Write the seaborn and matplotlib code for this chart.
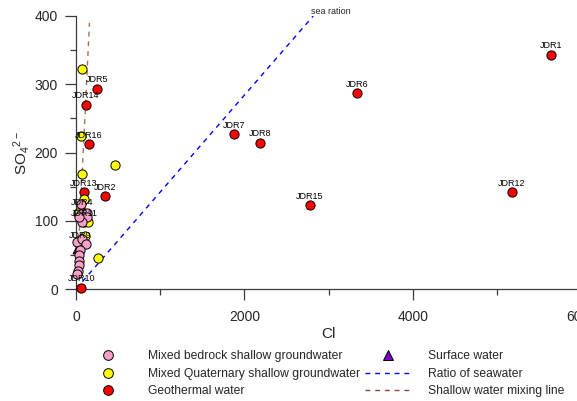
import matplotlib
matplotlib.use("Agg")
import matplotlib.pyplot as plt
import seaborn as sns
import pandas as pd
from matplotlib.lines import Line2D
from matplotlib.ticker import MultipleLocator

# ---------------- data ----------------
geo_names = ["JDR1", "JDR2", "JDR4", "JDR5", "JDR6", "JDR7", "JDR8", "JDR9",
             "JDR10", "JDR11", "JDR12", "JDR13", "JDR14", "JDR15", "JDR16"]
geo_cl = [5640, 349, 71, 253, 3335, 1875, 2184, 50, 63, 95, 5175, 92, 119, 2777, 155]
geo_so4 = [343, 136, 113, 293, 287, 227, 214, 65, 2, 98, 142, 142, 270, 123, 212]

quat_cl = [75, 56, 468, 75, 99, 27, 147, 103, 258]
quat_so4 = [323, 224, 181, 169, 132, 111, 98, 78, 46]

bed_cl = [63, 56, 135, 127, 75, 40, 15, 75, 123, 48, 30, 36, 30, 27, 8]
bed_so4 = [124, 110, 112, 105, 98, 106, 69, 73, 66, 57, 50, 41, 35, 27, 22]

surf_cl = [10]
surf_so4 = [58]

sea_cl = [0, 2815]
sea_so4 = [0, 400]

mix_cl = [7, 160]
mix_so4 = [0, 390]

x_ticks = [0, 2000, 4000, 6000]
y_ticks = [0, 100, 200, 300, 400]

# ---------------- style ----------------
sns.set_style("ticks")
plt.rcParams["font.family"] = ["Liberation Sans", "DejaVu Sans"]
plt.rcParams["mathtext.fontset"] = "custom"
plt.rcParams["mathtext.rm"] = "Liberation Sans"
plt.rcParams["mathtext.it"] = "Liberation Sans:italic"

C_PINK = "#F7A1C8"
C_YEL = "#FFFF00"
C_RED = "#FF0000"
C_PUR = "#8000C0"
C_BLUE = "#0000FF"
C_BROWN = "#A5744E"
AX_COL = "#3a3a3a"

fig = plt.figure(figsize=(5.77, 4.01), dpi=100)
ax = fig.add_axes([0.1317, 0.2793, 0.8761, 0.6808])

ax.plot(sea_cl, sea_so4, color=C_BLUE, lw=1.0, dashes=(3.5, 3.5), zorder=1)
ax.plot(mix_cl, mix_so4, color=C_BROWN, lw=1.0, dashes=(3.5, 3.5), zorder=1)

geo = pd.DataFrame({"Cl": geo_cl, "SO4": geo_so4})
quat = pd.DataFrame({"Cl": quat_cl, "SO4": quat_so4})
bed = pd.DataFrame({"Cl": bed_cl, "SO4": bed_so4})
surf = pd.DataFrame({"Cl": surf_cl, "SO4": surf_so4})

kw = dict(s=44, edgecolor="black", linewidth=0.7, ax=ax, legend=False, clip_on=False)
sns.scatterplot(data=geo, x="Cl", y="SO4", color=C_RED, zorder=3, **kw)
sns.scatterplot(data=quat, x="Cl", y="SO4", color=C_YEL, zorder=4, **kw)
sns.scatterplot(data=bed, x="Cl", y="SO4", color=C_PINK, zorder=5, **kw)
sns.scatterplot(data=surf, x="Cl", y="SO4", color=C_PUR, marker="^", zorder=2,
                s=40, edgecolor="black", linewidth=0.7, ax=ax, legend=False, clip_on=False)

for n, xv, yv in zip(geo_names, geo_cl, geo_so4):
    ax.annotate(n, (xv, yv), xytext=(0, 6.5), textcoords="offset points",
                ha="center", va="center", fontsize=6.5, color="black", zorder=6,
                annotation_clip=False)

ax.text(3027, 406, "sea ration", fontsize=6.5, ha="center", va="center")

ax.set_xlim(0, 6000)
ax.set_ylim(0, 400)
ax.set_xticks(x_ticks)
ax.set_yticks(y_ticks)
ax.xaxis.set_minor_locator(MultipleLocator(1000))
ax.yaxis.set_minor_locator(MultipleLocator(50))
ax.tick_params(axis="both", which="major", length=8, width=0.9, color=AX_COL,
               labelsize=10, direction="out")
ax.tick_params(axis="both", which="minor", length=4, width=0.9, color=AX_COL,
               direction="out")
ax.tick_params(axis="x", pad=7)
ax.tick_params(axis="y", pad=5)
for side in ["top", "right"]:
    ax.spines[side].set_visible(False)
for side in ["left", "bottom"]:
    ax.spines[side].set_color(AX_COL)
    ax.spines[side].set_linewidth(0.9)

ax.set_xlabel("Cl", fontsize=11, labelpad=2)
ax.set_ylabel("SO$_4$$^{2-}$", fontsize=11, labelpad=2)

handles = [
    Line2D([], [], ls="none", marker="o", markersize=7, markerfacecolor=C_PINK,
           markeredgecolor="black", markeredgewidth=0.7),
    Line2D([], [], ls="none", marker="o", markersize=7, markerfacecolor=C_YEL,
           markeredgecolor="black", markeredgewidth=0.7),
    Line2D([], [], ls="none", marker="o", markersize=7, markerfacecolor=C_RED,
           markeredgecolor="black", markeredgewidth=0.7),
    Line2D([], [], ls="none", marker="^", markersize=7, markerfacecolor=C_PUR,
           markeredgecolor="black", markeredgewidth=0.7),
    Line2D([], [], color=C_BLUE, lw=1.0, dashes=(3.5, 3.5)),
    Line2D([], [], color="#8B4A4A", lw=1.0, dashes=(3.5, 3.5)),
]
labels = ["Mixed bedrock shallow groundwater", "Mixed Quaternary shallow groundwater",
          "Geothermal water", "Surface water", "Ratio of seawater",
          "Shallow water mixing line"]
fig.legend(handles, labels, ncol=2, loc="upper left", bbox_to_anchor=(0.148, 0.126),
           frameon=False, fontsize=8.7, handlelength=3.7, handletextpad=1.5,
           columnspacing=0.4, labelspacing=0.45, borderaxespad=0, borderpad=0)

fig.savefig("out.png", dpi=100)
